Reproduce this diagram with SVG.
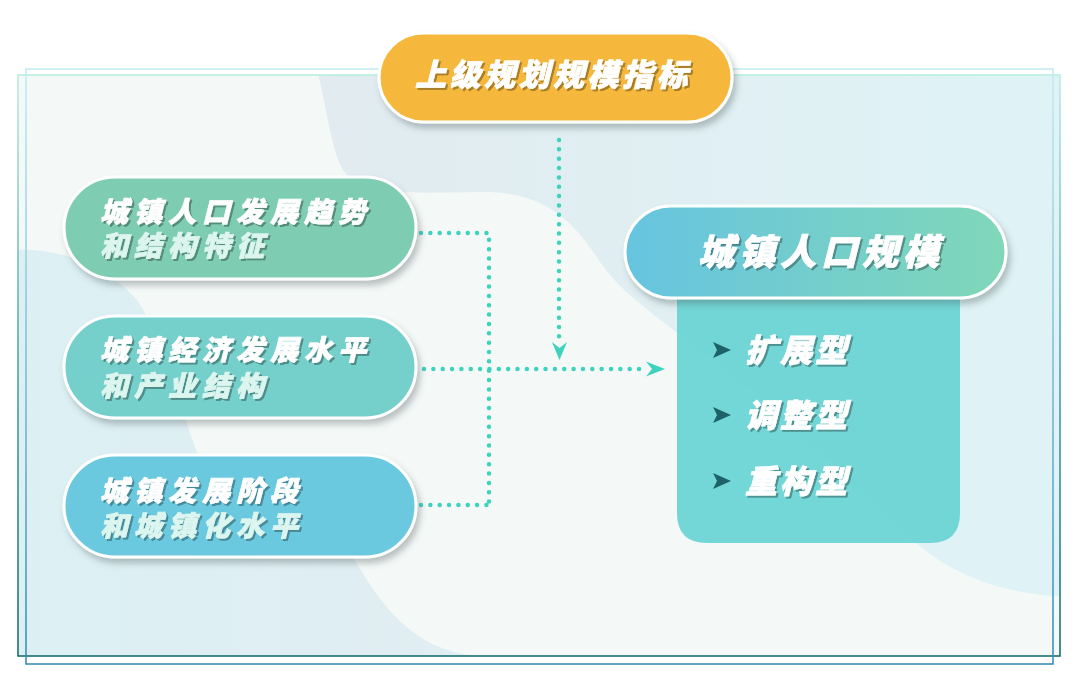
<svg xmlns="http://www.w3.org/2000/svg" width="1080" height="694" viewBox="0 0 1080 694">
<defs>
<linearGradient id="gFrameA" x1="0" y1="0" x2="0" y2="1"><stop offset="0" stop-color="#b9efdf"/><stop offset="0.5" stop-color="#4fa6a6"/><stop offset="1" stop-color="#1b6e70"/></linearGradient>
<linearGradient id="gFrameB" x1="0" y1="0" x2="0" y2="1"><stop offset="0" stop-color="#c6ecf4"/><stop offset="0.5" stop-color="#7fbfd6"/><stop offset="1" stop-color="#3d8db6"/></linearGradient>
<linearGradient id="gBlobR" x1="0" y1="0" x2="1" y2="0"><stop offset="0" stop-color="#e1ebf0"/><stop offset="1" stop-color="#dff3f6"/></linearGradient>
<linearGradient id="gBlobL" x1="0" y1="0" x2="1" y2="0"><stop offset="0" stop-color="#dcf0f4"/><stop offset="1" stop-color="#e1edf2"/></linearGradient>
<linearGradient id="gHead" x1="0" y1="0" x2="1" y2="0"><stop offset="0" stop-color="#66c4e0"/><stop offset="1" stop-color="#80d7b8"/></linearGradient>
<clipPath id="cFrame"><rect x="18" y="75" width="1042" height="581"/></clipPath>
<filter id="fNode" x="-10%" y="-20%" width="125%" height="150%"><feDropShadow dx="3" dy="5" stdDeviation="3" flood-color="#4a5a5a" flood-opacity="0.35"/></filter>
<filter id="fText" x="-5%" y="-20%" width="115%" height="150%"><feDropShadow dx="2" dy="2" stdDeviation="0.4" flood-color="#000" flood-opacity="0.32"/></filter>
</defs>
<style>
.pill{stroke:#ffffff;stroke-width:3}
.t{font-family:"Noto Sans CJK SC","Noto Sans",sans-serif;font-weight:900;font-style:italic;fill:#ffffff;stroke:#ffffff;stroke-width:0.7}
.l2{fill:#dcf6ef;stroke:#dcf6ef}
.dot{fill:none;stroke:#3fd3bd;stroke-width:4.5;stroke-linecap:round;stroke-dasharray:0 9.35}
.bul{fill:#1c6268}
</style>
<rect x="0" y="0" width="1080" height="694" fill="#ffffff"/>
<g id="background">
<rect x="18" y="75" width="1042" height="581" fill="#f4f8f7"/>
<g clip-path="url(#cFrame)">
<path d="M317 70 C330 120 332 165 352 180 C372 195 420 193 480 192 C540 191 570 215 600 262 C630 305 680 330 750 390 C820 450 880 510 915 542 C950 573 1000 594 1065 597 L1065 70 Z" fill="url(#gBlobR)"/>
<path d="M10 250 C60 246 110 268 137 300 C165 340 180 410 200 460 C280 500 330 530 353 557 C375 595 395 622 425 640 C445 652 470 656 495 660 L10 660 Z" fill="url(#gBlobL)"/>
</g>
<rect x="18" y="75" width="1042" height="581" fill="none" stroke="url(#gFrameA)" stroke-width="1.6"/>
<rect x="26" y="69" width="1027" height="595" fill="none" stroke="url(#gFrameB)" stroke-width="1.6"/>
</g>
<g id="connectors">
<path class="dot" d="M559 140 L559 338"/>
<path d="M552 342 L559.5 348 L567 342 L559.5 360 Z" fill="#3fd3bd"/>
<path class="dot" d="M421 233 L489 233 L489 505"/>
<path class="dot" d="M421 505 L489 505"/>
<path class="dot" d="M424 369 L640 369"/>
<path d="M646 361.5 L665 369 L646 376.5 L652 369 Z" fill="#3fd3bd"/>
</g>
<g id="node-top">
<rect class="pill" x="379" y="33" width="353" height="89" rx="44.5" fill="#f5b83e" filter="url(#fNode)"/>
<text class="t" x="415" y="86" font-size="31" letter-spacing="3.5" filter="url(#fText)">上级规划规模指标</text>
</g>
<g id="node-population-trend">
<rect class="pill" x="64" y="177" width="352" height="102" rx="51" fill="#7ecdb3" filter="url(#fNode)"/>
<text class="t" x="100" y="222" font-size="28" letter-spacing="6" filter="url(#fText)">城镇人口发展趋势</text>
<text class="t l2" x="100" y="256" font-size="28" letter-spacing="6" filter="url(#fText)">和结构特征</text>
</g>
<g id="node-economy">
<rect class="pill" x="64" y="316" width="352" height="102" rx="51" fill="#74cfca" filter="url(#fNode)"/>
<text class="t" x="100" y="360" font-size="28" letter-spacing="6" filter="url(#fText)">城镇经济发展水平</text>
<text class="t l2" x="100" y="396" font-size="28" letter-spacing="6" filter="url(#fText)">和产业结构</text>
</g>
<g id="node-stage">
<rect class="pill" x="64" y="455" width="352" height="102" rx="51" fill="#6bc9df" filter="url(#fNode)"/>
<text class="t" x="100" y="501" font-size="28" letter-spacing="6" filter="url(#fText)">城镇发展阶段</text>
<text class="t l2" x="100" y="536" font-size="28" letter-spacing="6" filter="url(#fText)">和城镇化水平</text>
</g>
<g id="node-population-scale">
<path d="M677 280 L960 280 L960 513 Q960 543 930 543 L707 543 Q677 543 677 513 Z" fill="#66d3d3" fill-opacity="0.9"/>
<rect class="pill" x="625" y="206" width="381" height="92" rx="46" fill="url(#gHead)" filter="url(#fNode)"/>
<text class="t" x="698" y="265" font-size="36" letter-spacing="5" filter="url(#fText)">城镇人口规模</text>
<path class="bul" d="M713 342 L731 350 L713 358 L717 350 Z"/>
<text class="t" x="745" y="362" font-size="32" letter-spacing="3" filter="url(#fText)">扩展型</text>
<path class="bul" d="M713 407 L731 415 L713 423 L717 415 Z"/>
<text class="t" x="745" y="427" font-size="32" letter-spacing="3" filter="url(#fText)">调整型</text>
<path class="bul" d="M713 473 L731 481 L713 489 L717 481 Z"/>
<text class="t" x="745" y="493" font-size="32" letter-spacing="3" filter="url(#fText)">重构型</text>
</g>
</svg>
